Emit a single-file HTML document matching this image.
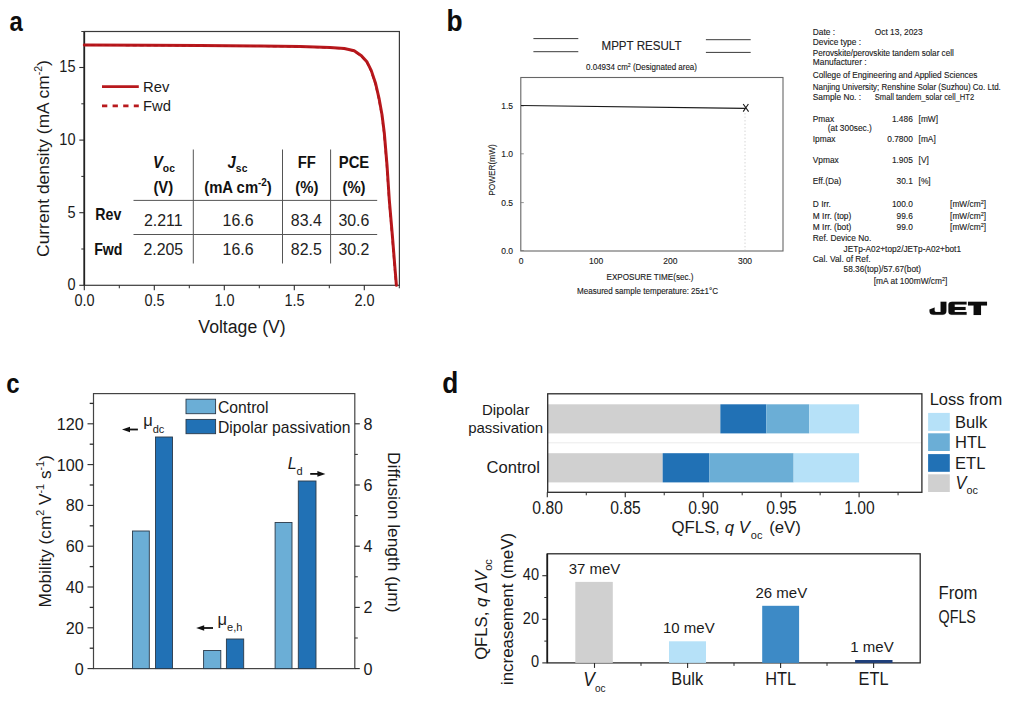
<!DOCTYPE html>
<html><head><meta charset="utf-8"><style>
html,body{margin:0;padding:0;background:#fff;}
svg{display:block;font-family:"Liberation Sans", sans-serif;}
</style></head><body>
<svg width="1015" height="702" viewBox="0 0 1015 702">
<rect width="1015" height="702" fill="#fff"/>
<text transform="translate(9.5,31) scale(0.87,1)" font-size="27.5" font-weight="bold" fill="#0d0d0d">a</text>
<rect x="84.3" y="31.5" width="315.09999999999997" height="253.8" fill="none" stroke="#3a3a3a" stroke-width="1.2"/>
<line x1="84.3" y1="31.5" x2="84.3" y2="285.3" stroke="#222" stroke-width="1.7" />
<line x1="81.3" y1="31.5" x2="399.4" y2="31.5" stroke="#3a3a3a" stroke-width="1.2" />
<line x1="79.3" y1="285.3" x2="84.3" y2="285.3" stroke="#2b2b2b" stroke-width="1.1" />
<text transform="translate(75.50,290.10) scale(0.92,1)" font-size="15.8" text-anchor="end" fill="#1a1a1a" >0</text>
<line x1="79.3" y1="212.70000000000002" x2="84.3" y2="212.70000000000002" stroke="#2b2b2b" stroke-width="1.1" />
<text transform="translate(75.50,217.50) scale(0.92,1)" font-size="15.8" text-anchor="end" fill="#1a1a1a" >5</text>
<line x1="79.3" y1="140.10000000000002" x2="84.3" y2="140.10000000000002" stroke="#2b2b2b" stroke-width="1.1" />
<text transform="translate(75.50,144.90) scale(0.92,1)" font-size="15.8" text-anchor="end" fill="#1a1a1a" >10</text>
<line x1="79.3" y1="67.50000000000003" x2="84.3" y2="67.50000000000003" stroke="#2b2b2b" stroke-width="1.1" />
<text transform="translate(75.50,72.30) scale(0.92,1)" font-size="15.8" text-anchor="end" fill="#1a1a1a" >15</text>
<line x1="81.3" y1="249.0" x2="84.3" y2="249.0" stroke="#2b2b2b" stroke-width="1" />
<line x1="81.3" y1="176.40000000000003" x2="84.3" y2="176.40000000000003" stroke="#2b2b2b" stroke-width="1" />
<line x1="81.3" y1="103.80000000000001" x2="84.3" y2="103.80000000000001" stroke="#2b2b2b" stroke-width="1" />
<line x1="84.3" y1="285.3" x2="84.3" y2="290.3" stroke="#2b2b2b" stroke-width="1.1" />
<text transform="translate(84.60,305.60) scale(0.92,1)" font-size="15.8" text-anchor="middle" fill="#1a1a1a" >0.0</text>
<line x1="154.3" y1="285.3" x2="154.3" y2="290.3" stroke="#2b2b2b" stroke-width="1.1" />
<text transform="translate(154.60,305.60) scale(0.92,1)" font-size="15.8" text-anchor="middle" fill="#1a1a1a" >0.5</text>
<line x1="224.3" y1="285.3" x2="224.3" y2="290.3" stroke="#2b2b2b" stroke-width="1.1" />
<text transform="translate(224.60,305.60) scale(0.92,1)" font-size="15.8" text-anchor="middle" fill="#1a1a1a" >1.0</text>
<line x1="294.3" y1="285.3" x2="294.3" y2="290.3" stroke="#2b2b2b" stroke-width="1.1" />
<text transform="translate(294.60,305.60) scale(0.92,1)" font-size="15.8" text-anchor="middle" fill="#1a1a1a" >1.5</text>
<line x1="364.3" y1="285.3" x2="364.3" y2="290.3" stroke="#2b2b2b" stroke-width="1.1" />
<text transform="translate(364.60,305.60) scale(0.92,1)" font-size="15.8" text-anchor="middle" fill="#1a1a1a" >2.0</text>
<line x1="119.3" y1="285.3" x2="119.3" y2="288.3" stroke="#2b2b2b" stroke-width="1" />
<line x1="189.3" y1="285.3" x2="189.3" y2="288.3" stroke="#2b2b2b" stroke-width="1" />
<line x1="259.3" y1="285.3" x2="259.3" y2="288.3" stroke="#2b2b2b" stroke-width="1" />
<line x1="329.3" y1="285.3" x2="329.3" y2="288.3" stroke="#2b2b2b" stroke-width="1" />
<line x1="399.3" y1="285.3" x2="399.3" y2="288.3" stroke="#2b2b2b" stroke-width="1" />
<text transform="translate(242.00,332.80) scale(0.93,1)" font-size="19" text-anchor="middle" fill="#1a1a1a" >Voltage (V)</text>
<text transform="translate(48.5,158.5) rotate(-90)" font-size="17.4" text-anchor="middle" fill="#1a1a1a">Current density (mA cm<tspan font-size="10.5" dy="-7">-2</tspan><tspan dy="7">)</tspan></text>
<path d="M84.3,45.0 L150,45.2 L200,45.5 L260,46 L300,46.5 L330,47.5 L344.3,48.5 L354.2,50.7 L361.4,55.7 L367.1,62.1 L371.3,70.6 L375.6,83.5 L379.2,99.2 L382,114.8 L384.3,133 L387,165 L389.3,200 L392.4,236 L395.2,271 L396.4,285.3" fill="none" stroke="#b8191d" stroke-width="3" stroke-linejoin="round" stroke-linecap="round"/>
<path d="M84.3,45.0 L150,45.2 L200,45.5 L260,46 L300,46.5 L330,47.5 L344.3,48.5 L354.2,50.7 L361.4,55.7 L367.1,62.1 L371.3,70.6 L375.6,83.5 L379.2,99.2 L382,114.8 L384.3,133 L387,165 L389.3,200 L392.4,236 L395.2,271 L396.4,285.3" fill="none" stroke="#b01218" stroke-width="1.2" stroke-dasharray="4 3" transform="translate(-0.6,0.4)"/>
<line x1="102" y1="86.6" x2="138.8" y2="86.6" stroke="#b8191d" stroke-width="2.7" />
<line x1="102" y1="105.9" x2="138.8" y2="105.9" stroke="#b8191d" stroke-width="2.7" stroke-dasharray="5.3 5.3"/>
<text x="143" y="91.8" font-size="14.8" text-anchor="start" font-weight="normal" font-style="normal" fill="#1a1a1a" >Rev</text>
<text x="143" y="110.9" font-size="14.8" text-anchor="start" font-weight="normal" font-style="normal" fill="#1a1a1a" >Fwd</text>
<line x1="133.5" y1="200.4" x2="377.2" y2="200.4" stroke="#555" stroke-width="1" />
<line x1="133.5" y1="234.5" x2="377.2" y2="234.5" stroke="#555" stroke-width="1" />
<line x1="193.3" y1="149.5" x2="193.3" y2="263.5" stroke="#555" stroke-width="1" />
<line x1="282.5" y1="149.5" x2="282.5" y2="263.5" stroke="#555" stroke-width="1" />
<line x1="330.6" y1="149.5" x2="330.6" y2="263.5" stroke="#555" stroke-width="1" />
<text transform="translate(108.30,219.80) scale(0.87,1)" font-size="16.3" text-anchor="middle" fill="#111" font-weight="bold">Rev</text>
<text transform="translate(108.30,254.60) scale(0.87,1)" font-size="16.3" text-anchor="middle" fill="#111" font-weight="bold">Fwd</text>
<text transform="translate(163.30,226.00) scale(0.92,1)" font-size="17.3" text-anchor="middle" fill="#222" >2.211</text>
<text transform="translate(238.00,226.00) scale(0.92,1)" font-size="17.3" text-anchor="middle" fill="#222" >16.6</text>
<text transform="translate(306.30,226.00) scale(0.92,1)" font-size="17.3" text-anchor="middle" fill="#222" >83.4</text>
<text transform="translate(353.90,226.00) scale(0.92,1)" font-size="17.3" text-anchor="middle" fill="#222" >30.6</text>
<text transform="translate(163.30,254.60) scale(0.92,1)" font-size="17.3" text-anchor="middle" fill="#222" >2.205</text>
<text transform="translate(238.00,254.60) scale(0.92,1)" font-size="17.3" text-anchor="middle" fill="#222" >16.6</text>
<text transform="translate(306.30,254.60) scale(0.92,1)" font-size="17.3" text-anchor="middle" fill="#222" >82.5</text>
<text transform="translate(353.90,254.60) scale(0.92,1)" font-size="17.3" text-anchor="middle" fill="#222" >30.2</text>
<text transform="translate(163.90,167.90) scale(0.9,1)" font-size="16.5" text-anchor="middle" fill="#111" font-weight="bold"><tspan font-style="italic">V</tspan><tspan font-size="11.5" dy="4.3">oc</tspan></text>
<text transform="translate(237.50,167.90) scale(0.9,1)" font-size="16.5" text-anchor="middle" fill="#111" font-weight="bold"><tspan font-style="italic">J</tspan><tspan font-size="11.5" dy="4.3">sc</tspan></text>
<text transform="translate(306.80,168.00) scale(0.9,1)" font-size="16.5" text-anchor="middle" fill="#111" font-weight="bold">FF</text>
<text transform="translate(354.00,168.00) scale(0.9,1)" font-size="16.5" text-anchor="middle" fill="#111" font-weight="bold">PCE</text>
<text transform="translate(163.30,192.80) scale(0.9,1)" font-size="16.5" text-anchor="middle" fill="#111" font-weight="bold">(V)</text>
<text transform="translate(238.00,192.80) scale(0.9,1)" font-size="16.5" text-anchor="middle" fill="#111" font-weight="bold">(mA cm<tspan font-size="11" dy="-6.5">-2</tspan><tspan dy="6.5">)</tspan></text>
<text transform="translate(306.80,192.80) scale(0.9,1)" font-size="16.5" text-anchor="middle" fill="#111" font-weight="bold">(%)</text>
<text transform="translate(354.00,192.80) scale(0.9,1)" font-size="16.5" text-anchor="middle" fill="#111" font-weight="bold">(%)</text>
<g stroke="#141414" stroke-width="0.12">
<text transform="translate(446.5,30.8) scale(0.89,1)" font-size="29.5" font-weight="bold" fill="#0d0d0d">b</text>
<line x1="533.4" y1="38.6" x2="578.3" y2="38.6" stroke="#3a3a3a" stroke-width="1" />
<line x1="533.4" y1="51.7" x2="578.3" y2="51.7" stroke="#3a3a3a" stroke-width="1" />
<line x1="705.9" y1="39.7" x2="750.7" y2="39.7" stroke="#3a3a3a" stroke-width="1" />
<line x1="705.9" y1="52.4" x2="750.7" y2="52.4" stroke="#3a3a3a" stroke-width="1" />
<text x="641.5" y="50" font-size="13" text-anchor="middle" font-weight="normal" font-style="normal" fill="#222" textLength="80" lengthAdjust="spacingAndGlyphs">MPPT RESULT</text>
<text x="641.5" y="69.8" font-size="8.5" text-anchor="middle" fill="#222" textLength="111" lengthAdjust="spacingAndGlyphs">0.04934 cm<tspan font-size="5.5" dy="-3">2</tspan><tspan dy="3"> (Designated area)</tspan></text>
<rect x="520.8" y="77.5" width="262.20000000000005" height="173.5" fill="none" stroke="#666" stroke-width="1.1"/>
<text x="513" y="108.9" font-size="8.5" text-anchor="end" font-weight="normal" font-style="normal" fill="#222" >1.5</text>
<line x1="520.8" y1="105.9" x2="523.8" y2="105.9" stroke="#777" stroke-width="0.8" />
<text x="513" y="156.8" font-size="8.5" text-anchor="end" font-weight="normal" font-style="normal" fill="#222" >1.0</text>
<line x1="520.8" y1="153.8" x2="523.8" y2="153.8" stroke="#777" stroke-width="0.8" />
<text x="513" y="205.6" font-size="8.5" text-anchor="end" font-weight="normal" font-style="normal" fill="#222" >0.5</text>
<line x1="520.8" y1="202.6" x2="523.8" y2="202.6" stroke="#777" stroke-width="0.8" />
<text x="513" y="253.5" font-size="8.5" text-anchor="end" font-weight="normal" font-style="normal" fill="#222" >0.0</text>
<line x1="520.8" y1="250.5" x2="523.8" y2="250.5" stroke="#777" stroke-width="0.8" />
<text x="521" y="264" font-size="8.5" text-anchor="middle" font-weight="normal" font-style="normal" fill="#222" >0</text>
<text x="596.2" y="264" font-size="8.5" text-anchor="middle" font-weight="normal" font-style="normal" fill="#222" >100</text>
<text x="670.4" y="264" font-size="8.5" text-anchor="middle" font-weight="normal" font-style="normal" fill="#222" >200</text>
<text x="745" y="264" font-size="8.5" text-anchor="middle" font-weight="normal" font-style="normal" fill="#222" >300</text>
<line x1="521" y1="105.5" x2="745" y2="108.3" stroke="#1a1a1a" stroke-width="1.2" />
<path d="M743.2,104 L748.6,111.6 M748.4,104 L743.2,111.6" stroke="#1a1a1a" stroke-width="1.1" fill="none"/>
<line x1="745" y1="113" x2="745" y2="250" stroke="#ccc" stroke-width="0.8" stroke-dasharray="1.5 2"/>
<text transform="translate(495,170) rotate(-90)" font-size="8.3" text-anchor="middle" fill="#222">POWER(mW)</text>
<text x="650" y="279.8" font-size="8.5" text-anchor="middle" font-weight="normal" font-style="normal" fill="#222" textLength="87" lengthAdjust="spacingAndGlyphs">EXPOSURE TIME(sec.)</text>
<text x="647.5" y="294.3" font-size="8.5" text-anchor="middle" font-weight="normal" font-style="normal" fill="#222" textLength="141" lengthAdjust="spacingAndGlyphs">Measured sample temperature: 25±1°C</text>
<text x="812.8" y="34.5" font-size="8.35" text-anchor="start" font-weight="normal" font-style="normal" fill="#222" >Date :</text>
<text x="874.8" y="34.5" font-size="8.35" text-anchor="start" font-weight="normal" font-style="normal" fill="#222" >Oct 13, 2023</text>
<text x="812.8" y="45.1" font-size="8.35" text-anchor="start" font-weight="normal" font-style="normal" fill="#222" >Device type :</text>
<text x="812.8" y="55.8" font-size="8.35" text-anchor="start" font-weight="normal" font-style="normal" fill="#222" textLength="141" lengthAdjust="spacingAndGlyphs">Perovskite/perovskite tandem solar cell</text>
<text x="812.8" y="65.4" font-size="8.35" text-anchor="start" font-weight="normal" font-style="normal" fill="#222" >Manufacturer :</text>
<text x="812.8" y="77.8" font-size="8.35" text-anchor="start" font-weight="normal" font-style="normal" fill="#222" textLength="164.6" lengthAdjust="spacingAndGlyphs">College of Engineering and Applied Sciences</text>
<text x="812.8" y="90.2" font-size="8.35" text-anchor="start" font-weight="normal" font-style="normal" fill="#222" textLength="188" lengthAdjust="spacingAndGlyphs">Nanjing University; Renshine Solar (Suzhou) Co. Ltd.</text>
<text x="812.8" y="100.3" font-size="8.35" text-anchor="start" font-weight="normal" font-style="normal" fill="#222" >Sample No. :</text>
<text x="874.8" y="100.3" font-size="8.35" text-anchor="start" font-weight="normal" font-style="normal" fill="#222" textLength="99.4" lengthAdjust="spacingAndGlyphs">Small tandem_solar cell_HT2</text>
<text x="812.8" y="121.7" font-size="8.35" text-anchor="start" font-weight="normal" font-style="normal" fill="#222" >Pmax</text>
<text x="827.8" y="131.3" font-size="8.35" text-anchor="start" font-weight="normal" font-style="normal" fill="#222" >(at 300sec.)</text>
<text x="812.8" y="142" font-size="8.35" text-anchor="start" font-weight="normal" font-style="normal" fill="#222" >Ipmax</text>
<text x="812.8" y="162.9" font-size="8.35" text-anchor="start" font-weight="normal" font-style="normal" fill="#222" >Vpmax</text>
<text x="812.8" y="184" font-size="8.35" text-anchor="start" font-weight="normal" font-style="normal" fill="#222" >Eff.(Da)</text>
<text x="912.8" y="121.7" font-size="8.35" text-anchor="end" font-weight="normal" font-style="normal" fill="#222" >1.486</text>
<text x="912.8" y="142" font-size="8.35" text-anchor="end" font-weight="normal" font-style="normal" fill="#222" >0.7800</text>
<text x="912.8" y="162.9" font-size="8.35" text-anchor="end" font-weight="normal" font-style="normal" fill="#222" >1.905</text>
<text x="912.8" y="184" font-size="8.35" text-anchor="end" font-weight="normal" font-style="normal" fill="#222" >30.1</text>
<text x="912.8" y="206.6" font-size="8.35" text-anchor="end" font-weight="normal" font-style="normal" fill="#222" >100.0</text>
<text x="912.8" y="218.7" font-size="8.35" text-anchor="end" font-weight="normal" font-style="normal" fill="#222" >99.6</text>
<text x="912.8" y="230.3" font-size="8.35" text-anchor="end" font-weight="normal" font-style="normal" fill="#222" >99.0</text>
<text x="918.6" y="121.7" font-size="8.35" text-anchor="start" font-weight="normal" font-style="normal" fill="#222" >[mW]</text>
<text x="918.6" y="142" font-size="8.35" text-anchor="start" font-weight="normal" font-style="normal" fill="#222" >[mA]</text>
<text x="918.6" y="162.9" font-size="8.35" text-anchor="start" font-weight="normal" font-style="normal" fill="#222" >[V]</text>
<text x="918.6" y="184" font-size="8.35" text-anchor="start" font-weight="normal" font-style="normal" fill="#222" >[%]</text>
<text x="812.8" y="206.6" font-size="8.35" text-anchor="start" font-weight="normal" font-style="normal" fill="#222" >D Irr.</text>
<text x="812.8" y="218.7" font-size="8.35" text-anchor="start" font-weight="normal" font-style="normal" fill="#222" >M Irr. (top)</text>
<text x="812.8" y="230.3" font-size="8.35" text-anchor="start" font-weight="normal" font-style="normal" fill="#222" >M Irr. (bot)</text>
<text x="950.1" y="206.6" font-size="8.35" fill="#222">[mW/cm<tspan font-size="5.5" dy="-3">2</tspan><tspan dy="3">]</tspan></text>
<text x="950.1" y="218.7" font-size="8.35" fill="#222">[mW/cm<tspan font-size="5.5" dy="-3">2</tspan><tspan dy="3">]</tspan></text>
<text x="950.1" y="230.3" font-size="8.35" fill="#222">[mW/cm<tspan font-size="5.5" dy="-3">2</tspan><tspan dy="3">]</tspan></text>
<text x="812.8" y="241" font-size="8.35" text-anchor="start" font-weight="normal" font-style="normal" fill="#222" >Ref. Device No.</text>
<text x="843.6" y="251.9" font-size="8.35" text-anchor="start" font-weight="normal" font-style="normal" fill="#222" textLength="117.4" lengthAdjust="spacingAndGlyphs">JETp-A02+top2/JETp-A02+bot1</text>
<text x="812.8" y="261.8" font-size="8.35" text-anchor="start" font-weight="normal" font-style="normal" fill="#222" >Cal. Val. of Ref.</text>
<text x="843.6" y="272.4" font-size="8.35" text-anchor="start" font-weight="normal" font-style="normal" fill="#222" textLength="77.4" lengthAdjust="spacingAndGlyphs">58.36(top)/57.67(bot)</text>
<text x="873.8" y="284" font-size="8.35" fill="#222">[mA at 100mW/cm<tspan font-size="5.5" dy="-3">2</tspan><tspan dy="3">]</tspan></text>
<path fill="#0d0d0d" d="M940.6,301.8 L946.4,301.8 L946.4,311 Q946.4,314.8 942.5,314.8 L933.5,314.8 Q929.5,314.8 929.5,311.3 L929.5,309.6 L934.6,307.6 L934.6,310.6 Q934.6,311.9 936,311.9 L940.6,311.9 Z"/>
<path fill="#0d0d0d" d="M952,301.8 L966.6,301.8 L966.6,304.6 L954.7,304.6 L954.7,306.9 L965.6,306.9 L965.6,310 L954.7,310 L954.7,312 L966.6,312 L966.6,314.8 L951.6,314.8 Q948.4,314.8 948.4,311.8 L948.4,304.8 Q948.4,301.8 952,301.8 Z"/>
<path fill="#0d0d0d" d="M968,301.8 L987,301.8 L987,305.4 L981,305.4 L981,315 L973.6,315 L973.6,305.4 L968,305.4 Z"/>
</g>
<text transform="translate(6.3,393.2) scale(0.87,1)" font-size="27.5" font-weight="bold" fill="#0d0d0d">c</text>
<rect x="93.5" y="393.6" width="261.3" height="275.0" fill="none" stroke="#444" stroke-width="1.2"/>
<line x1="87.5" y1="668.6" x2="93.5" y2="668.6" stroke="#2b2b2b" stroke-width="1.1" />
<text transform="translate(83.70,674.60) scale(0.95,1)" font-size="17" text-anchor="end" fill="#1a1a1a" >0</text>
<line x1="87.5" y1="627.8000000000001" x2="93.5" y2="627.8000000000001" stroke="#2b2b2b" stroke-width="1.1" />
<text transform="translate(83.70,633.80) scale(0.95,1)" font-size="17" text-anchor="end" fill="#1a1a1a" >20</text>
<line x1="87.5" y1="587.0" x2="93.5" y2="587.0" stroke="#2b2b2b" stroke-width="1.1" />
<text transform="translate(83.70,593.00) scale(0.95,1)" font-size="17" text-anchor="end" fill="#1a1a1a" >40</text>
<line x1="87.5" y1="546.2" x2="93.5" y2="546.2" stroke="#2b2b2b" stroke-width="1.1" />
<text transform="translate(83.70,552.20) scale(0.95,1)" font-size="17" text-anchor="end" fill="#1a1a1a" >60</text>
<line x1="87.5" y1="505.40000000000003" x2="93.5" y2="505.40000000000003" stroke="#2b2b2b" stroke-width="1.1" />
<text transform="translate(83.70,511.40) scale(0.95,1)" font-size="17" text-anchor="end" fill="#1a1a1a" >80</text>
<line x1="87.5" y1="464.6" x2="93.5" y2="464.6" stroke="#2b2b2b" stroke-width="1.1" />
<text transform="translate(83.70,470.60) scale(0.95,1)" font-size="17" text-anchor="end" fill="#1a1a1a" >100</text>
<line x1="87.5" y1="423.8" x2="93.5" y2="423.8" stroke="#2b2b2b" stroke-width="1.1" />
<text transform="translate(83.70,429.80) scale(0.95,1)" font-size="17" text-anchor="end" fill="#1a1a1a" >120</text>
<line x1="89.7" y1="648.2" x2="93.5" y2="648.2" stroke="#2b2b2b" stroke-width="1.3" />
<line x1="89.7" y1="607.4" x2="93.5" y2="607.4" stroke="#2b2b2b" stroke-width="1.3" />
<line x1="89.7" y1="566.6" x2="93.5" y2="566.6" stroke="#2b2b2b" stroke-width="1.3" />
<line x1="89.7" y1="525.8" x2="93.5" y2="525.8" stroke="#2b2b2b" stroke-width="1.3" />
<line x1="89.7" y1="485.0" x2="93.5" y2="485.0" stroke="#2b2b2b" stroke-width="1.3" />
<line x1="89.7" y1="444.20000000000005" x2="93.5" y2="444.20000000000005" stroke="#2b2b2b" stroke-width="1.3" />
<line x1="89.7" y1="403.40000000000003" x2="93.5" y2="403.40000000000003" stroke="#2b2b2b" stroke-width="1.3" />
<line x1="354.8" y1="668.6" x2="359.8" y2="668.6" stroke="#2b2b2b" stroke-width="1.1" />
<text transform="translate(363.60,674.60) scale(0.95,1)" font-size="17" text-anchor="start" fill="#1a1a1a" >0</text>
<line x1="354.8" y1="607.4" x2="359.8" y2="607.4" stroke="#2b2b2b" stroke-width="1.1" />
<text transform="translate(363.60,613.40) scale(0.95,1)" font-size="17" text-anchor="start" fill="#1a1a1a" >2</text>
<line x1="354.8" y1="546.2" x2="359.8" y2="546.2" stroke="#2b2b2b" stroke-width="1.1" />
<text transform="translate(363.60,552.20) scale(0.95,1)" font-size="17" text-anchor="start" fill="#1a1a1a" >4</text>
<line x1="354.8" y1="485.0" x2="359.8" y2="485.0" stroke="#2b2b2b" stroke-width="1.1" />
<text transform="translate(363.60,491.00) scale(0.95,1)" font-size="17" text-anchor="start" fill="#1a1a1a" >6</text>
<line x1="354.8" y1="423.8" x2="359.8" y2="423.8" stroke="#2b2b2b" stroke-width="1.1" />
<text transform="translate(363.60,429.80) scale(0.95,1)" font-size="17" text-anchor="start" fill="#1a1a1a" >8</text>
<line x1="354.8" y1="638.0" x2="357.8" y2="638.0" stroke="#2b2b2b" stroke-width="1" />
<line x1="354.8" y1="576.8" x2="357.8" y2="576.8" stroke="#2b2b2b" stroke-width="1" />
<line x1="354.8" y1="515.6" x2="357.8" y2="515.6" stroke="#2b2b2b" stroke-width="1" />
<line x1="354.8" y1="454.4" x2="357.8" y2="454.4" stroke="#2b2b2b" stroke-width="1" />
<rect x="132.5" y="531" width="16.80000000000001" height="137.60000000000002" fill="#6baed6" stroke="#2a3a4a" stroke-width="0.9" />
<rect x="155.5" y="437" width="17.0" height="231.60000000000002" fill="#2171b5" stroke="#2a3a4a" stroke-width="0.9" />
<rect x="203.6" y="650.5" width="17.200000000000017" height="18.100000000000023" fill="#6baed6" stroke="#2a3a4a" stroke-width="0.9" />
<rect x="226.4" y="639" width="17.299999999999983" height="29.600000000000023" fill="#2171b5" stroke="#2a3a4a" stroke-width="0.9" />
<rect x="275.1" y="522.5" width="16.899999999999977" height="146.10000000000002" fill="#6baed6" stroke="#2a3a4a" stroke-width="0.9" />
<rect x="298.3" y="481" width="17.69999999999999" height="187.60000000000002" fill="#2171b5" stroke="#2a3a4a" stroke-width="0.9" />
<rect x="186" y="399.2" width="29.6" height="14.5" fill="#6baed6" stroke="#2a3a4a" stroke-width="0.9" />
<rect x="186" y="419.4" width="29.6" height="14.3" fill="#2171b5" stroke="#2a3a4a" stroke-width="0.9" />
<text x="218" y="413.3" font-size="15.7" text-anchor="start" font-weight="normal" font-style="normal" fill="#1a1a1a" >Control</text>
<text x="218" y="433.4" font-size="15.7" text-anchor="start" font-weight="normal" font-style="normal" fill="#1a1a1a" >Dipolar passivation</text>
<line x1="126" y1="429.5" x2="137.9" y2="429.5" stroke="#111" stroke-width="1.8" />
<path d="M122,429.5 L130,426.7 L130,432.3 Z" fill="#111"/>
<text x="143.2" y="426" font-size="16.5" fill="#1a1a1a">μ<tspan font-size="11" dy="6.5">dc</tspan></text>
<line x1="200.2" y1="628" x2="213" y2="628" stroke="#111" stroke-width="1.8" />
<path d="M196.2,628 L204.2,625.2 L204.2,630.8 Z" fill="#111"/>
<text x="217.5" y="624.7" font-size="16.5" fill="#1a1a1a">μ<tspan font-size="11" dy="6.4">e,h</tspan></text>
<line x1="310.2" y1="473.9" x2="321.4" y2="473.9" stroke="#111" stroke-width="1.8" />
<path d="M325.4,473.9 L317.4,471.09999999999997 L317.4,476.7 Z" fill="#111"/>
<text x="287.7" y="468.7" font-size="16" fill="#1a1a1a" font-style="italic">L<tspan font-size="11" dy="6" font-style="normal">d</tspan></text>
<text transform="translate(50.5,531.3) rotate(-90)" font-size="17.2" text-anchor="middle" fill="#1a1a1a">Mobility (cm<tspan font-size="10.8" dy="-6.5">2</tspan><tspan dy="6.5"> V</tspan><tspan font-size="10.8" dy="-6.5">-1</tspan><tspan dy="6.5"> s</tspan><tspan font-size="10.8" dy="-6.5">-1</tspan><tspan dy="6.5">)</tspan></text>
<text transform="translate(387.5,532.2) rotate(90)" font-size="17.4" text-anchor="middle" fill="#1a1a1a">Diffusion length (μm)</text>
<text transform="translate(442.3,393) scale(0.89,1)" font-size="29.5" font-weight="bold" fill="#0d0d0d">d</text>
<line x1="547.7" y1="442.8" x2="921.9" y2="442.8" stroke="#e6e6e6" stroke-width="0.8" />
<rect x="547.7" y="404.3" width="172.6489999999999" height="29.099999999999966" fill="#d0d0d0" stroke="none" stroke-width="0" />
<rect x="720.3489999999999" y="404.3" width="45.9905" height="29.099999999999966" fill="#2171b5" stroke="none" stroke-width="0" />
<rect x="766.3394999999999" y="404.3" width="42.87249999999983" height="29.099999999999966" fill="#6baed6" stroke="none" stroke-width="0" />
<rect x="809.2119999999998" y="404.3" width="49.88800000000015" height="29.099999999999966" fill="#b6e1f8" stroke="none" stroke-width="0" />
<rect x="547.7" y="453.2" width="114.9659999999999" height="29.19999999999999" fill="#d0d0d0" stroke="none" stroke-width="0" />
<rect x="662.6659999999999" y="453.2" width="46.76999999999998" height="29.19999999999999" fill="#2171b5" stroke="none" stroke-width="0" />
<rect x="709.4359999999999" y="453.2" width="84.18599999999992" height="29.19999999999999" fill="#6baed6" stroke="none" stroke-width="0" />
<rect x="793.6219999999998" y="453.2" width="65.47800000000007" height="29.19999999999999" fill="#b6e1f8" stroke="none" stroke-width="0" />
<rect x="547.7" y="393.8" width="374.19999999999993" height="98.5" fill="none" stroke="#2a2a2a" stroke-width="1.3"/>
<line x1="547.3" y1="492.3" x2="547.3" y2="497.3" stroke="#2b2b2b" stroke-width="1.1" />
<text transform="translate(547.60,513.50) scale(0.89,1)" font-size="17.6" text-anchor="middle" fill="#1a1a1a" >0.80</text>
<line x1="625.2499999999999" y1="492.3" x2="625.2499999999999" y2="497.3" stroke="#2b2b2b" stroke-width="1.1" />
<text transform="translate(625.55,513.50) scale(0.89,1)" font-size="17.6" text-anchor="middle" fill="#1a1a1a" >0.85</text>
<line x1="703.1999999999999" y1="492.3" x2="703.1999999999999" y2="497.3" stroke="#2b2b2b" stroke-width="1.1" />
<text transform="translate(703.50,513.50) scale(0.89,1)" font-size="17.6" text-anchor="middle" fill="#1a1a1a" >0.90</text>
<line x1="781.1499999999999" y1="492.3" x2="781.1499999999999" y2="497.3" stroke="#2b2b2b" stroke-width="1.1" />
<text transform="translate(781.45,513.50) scale(0.89,1)" font-size="17.6" text-anchor="middle" fill="#1a1a1a" >0.95</text>
<line x1="859.0999999999999" y1="492.3" x2="859.0999999999999" y2="497.3" stroke="#2b2b2b" stroke-width="1.1" />
<text transform="translate(859.40,513.50) scale(0.89,1)" font-size="17.6" text-anchor="middle" fill="#1a1a1a" >1.00</text>
<line x1="586.2749999999999" y1="492.3" x2="586.2749999999999" y2="495.3" stroke="#2b2b2b" stroke-width="1" />
<line x1="664.2249999999999" y1="492.3" x2="664.2249999999999" y2="495.3" stroke="#2b2b2b" stroke-width="1" />
<line x1="742.175" y1="492.3" x2="742.175" y2="495.3" stroke="#2b2b2b" stroke-width="1" />
<line x1="820.1249999999998" y1="492.3" x2="820.1249999999998" y2="495.3" stroke="#2b2b2b" stroke-width="1" />
<line x1="898.0749999999998" y1="492.3" x2="898.0749999999998" y2="495.3" stroke="#2b2b2b" stroke-width="1" />
<text x="505.7" y="414.6" font-size="15" text-anchor="middle" font-weight="normal" font-style="normal" fill="#1a1a1a" >Dipolar</text>
<text x="505.7" y="432.8" font-size="15" text-anchor="middle" font-weight="normal" font-style="normal" fill="#1a1a1a" >passivation</text>
<text x="540" y="473" font-size="16.6" text-anchor="end" font-weight="normal" font-style="normal" fill="#1a1a1a" >Control</text>
<text x="671.5" y="532.5" font-size="16.8" fill="#1a1a1a">QFLS, <tspan font-style="italic">q V</tspan><tspan font-size="11" dy="6" dx="1">oc</tspan><tspan dy="-6" dx="2"> (eV)</tspan></text>
<text transform="translate(929.70,405.20) scale(0.96,1)" font-size="17.2" text-anchor="start" fill="#1a1a1a" >Loss from</text>
<rect x="928.1" y="412.9" width="21.7" height="18.0" fill="#b6e1f8" stroke="none" stroke-width="0" />
<text x="955.1" y="427.7" font-size="16.5" text-anchor="start" font-weight="normal" font-style="normal" fill="#1a1a1a" >Bulk</text>
<rect x="928.1" y="433.3" width="21.7" height="17.69999999999999" fill="#6baed6" stroke="none" stroke-width="0" />
<text x="955.1" y="447.8" font-size="16.5" text-anchor="start" font-weight="normal" font-style="normal" fill="#1a1a1a" >HTL</text>
<rect x="928.1" y="454.1" width="21.7" height="17.69999999999999" fill="#2171b5" stroke="none" stroke-width="0" />
<text x="955.1" y="468.6" font-size="16.5" text-anchor="start" font-weight="normal" font-style="normal" fill="#1a1a1a" >ETL</text>
<rect x="928.1" y="474.3" width="21.7" height="17.69999999999999" fill="#d0d0d0" stroke="none" stroke-width="0" />
<text transform="translate(955.50,488.50) scale(0.94,1)" font-size="17.5" text-anchor="start" fill="#1a1a1a" ><tspan font-style="italic">V</tspan><tspan font-size="11.5" dy="5.8">oc</tspan></text>
<rect x="547.3" y="553.8" width="372.9000000000001" height="109.10000000000002" fill="none" stroke="#2a2a2a" stroke-width="1.3"/>
<line x1="547.3" y1="553.8" x2="547.3" y2="662.9" stroke="#1a1a1a" stroke-width="1.7" />
<line x1="542.3" y1="662.9" x2="547.3" y2="662.9" stroke="#2b2b2b" stroke-width="1.1" />
<text transform="translate(539.00,667.40) scale(0.89,1)" font-size="16.4" text-anchor="end" fill="#1a1a1a" >0</text>
<line x1="542.3" y1="619.3" x2="547.3" y2="619.3" stroke="#2b2b2b" stroke-width="1.1" />
<text transform="translate(539.00,623.80) scale(0.89,1)" font-size="16.4" text-anchor="end" fill="#1a1a1a" >20</text>
<line x1="542.3" y1="575.6999999999999" x2="547.3" y2="575.6999999999999" stroke="#2b2b2b" stroke-width="1.1" />
<text transform="translate(539.00,580.20) scale(0.89,1)" font-size="16.4" text-anchor="end" fill="#1a1a1a" >40</text>
<line x1="544.3" y1="641.1" x2="547.3" y2="641.1" stroke="#2b2b2b" stroke-width="1" />
<line x1="544.3" y1="597.5" x2="547.3" y2="597.5" stroke="#2b2b2b" stroke-width="1" />
<line x1="594.5" y1="662.9" x2="594.5" y2="667.9" stroke="#2b2b2b" stroke-width="1.1" />
<line x1="687.6" y1="662.9" x2="687.6" y2="667.9" stroke="#2b2b2b" stroke-width="1.1" />
<line x1="780.6" y1="662.9" x2="780.6" y2="667.9" stroke="#2b2b2b" stroke-width="1.1" />
<line x1="873.6" y1="662.9" x2="873.6" y2="667.9" stroke="#2b2b2b" stroke-width="1.1" />
<line x1="641" y1="662.9" x2="641" y2="665.9" stroke="#2b2b2b" stroke-width="1" />
<line x1="734" y1="662.9" x2="734" y2="665.9" stroke="#2b2b2b" stroke-width="1" />
<line x1="827" y1="662.9" x2="827" y2="665.9" stroke="#2b2b2b" stroke-width="1" />
<rect x="575.3" y="581.9" width="37.5" height="81.0" fill="#d0d0d0" stroke="none" stroke-width="0" />
<rect x="669" y="641.3" width="37" height="21.600000000000023" fill="#b6e1f8" stroke="none" stroke-width="0" />
<rect x="762.2" y="605.8" width="36.89999999999998" height="57.10000000000002" fill="#3d8ac6" stroke="none" stroke-width="0" />
<rect x="855.1" y="660" width="37.39999999999998" height="2.8999999999999773" fill="#1f3f7a" stroke="none" stroke-width="0" />
<text x="594.5" y="573.9" font-size="15" text-anchor="middle" font-weight="normal" font-style="normal" fill="#1a1a1a" >37 meV</text>
<text x="688.8" y="633" font-size="15" text-anchor="middle" font-weight="normal" font-style="normal" fill="#1a1a1a" >10 meV</text>
<text x="781.3" y="598.2" font-size="15" text-anchor="middle" font-weight="normal" font-style="normal" fill="#1a1a1a" >26 meV</text>
<text x="872" y="652.4" font-size="15" text-anchor="middle" font-weight="normal" font-style="normal" fill="#1a1a1a" >1 meV</text>
<text transform="translate(583.30,686.40) scale(0.87,1)" font-size="20" text-anchor="start" fill="#1a1a1a" ><tspan font-style="italic">V</tspan><tspan font-size="11.5" dy="5.8">oc</tspan></text>
<text transform="translate(687.20,685.40) scale(0.93,1)" font-size="17.6" text-anchor="middle" fill="#1a1a1a" >Bulk</text>
<text transform="translate(780.60,685.40) scale(0.93,1)" font-size="17.6" text-anchor="middle" fill="#1a1a1a" >HTL</text>
<text transform="translate(873.50,685.40) scale(0.93,1)" font-size="17.6" text-anchor="middle" fill="#1a1a1a" >ETL</text>
<text transform="translate(487.2,609.5) rotate(-90)" font-size="16.7" text-anchor="middle" fill="#1a1a1a">QFLS, <tspan font-style="italic">q ΔV</tspan><tspan font-size="11" dy="5">oc</tspan></text>
<text transform="translate(513,609) rotate(-90)" font-size="16.9" text-anchor="middle" fill="#1a1a1a">increasement (meV)</text>
<text x="938.5" y="599.3" font-size="17.6" text-anchor="start" font-weight="normal" font-style="normal" fill="#1a1a1a" textLength="39" lengthAdjust="spacingAndGlyphs">From</text>
<text x="938.5" y="622.8" font-size="17.6" text-anchor="start" font-weight="normal" font-style="normal" fill="#1a1a1a" textLength="37.4" lengthAdjust="spacingAndGlyphs">QFLS</text>
</svg>
</body></html>
